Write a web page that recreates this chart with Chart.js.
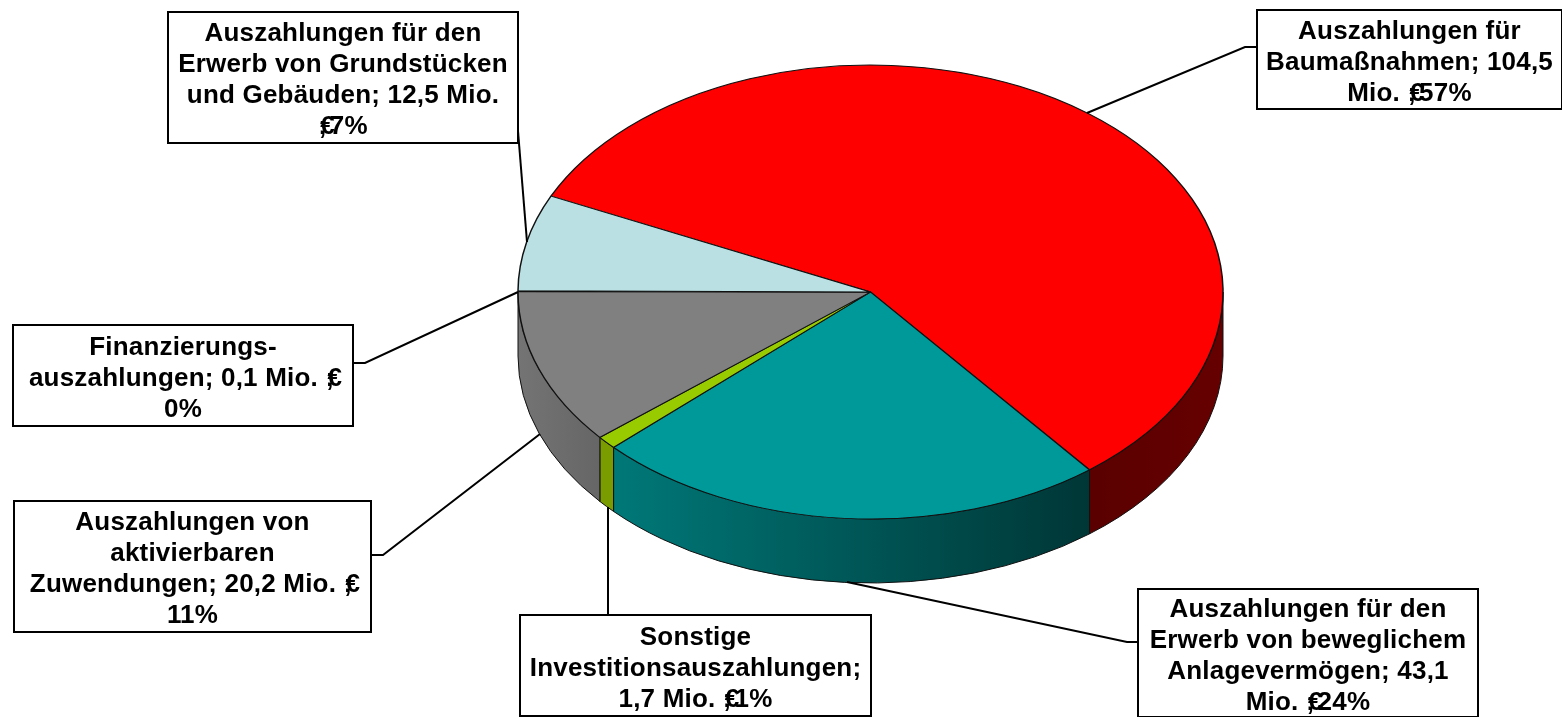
<!DOCTYPE html>
<html>
<head>
<meta charset="utf-8">
<style>html,body{margin:0;padding:0;background:#fff}canvas{display:block}</style>
<script src="https://cdn.jsdelivr.net/npm/chart.js@4/dist/chart.umd.min.js"></script>
</head>
<body>
<canvas id="c" width="1562" height="717"></canvas>
<script>
const categories = [
  "Auszahlungen für Baumaßnahmen",
  "Auszahlungen für den Erwerb von beweglichem Anlagevermögen",
  "Sonstige Investitionsauszahlungen",
  "Auszahlungen von aktivierbaren Zuwendungen",
  "Finanzierungsauszahlungen",
  "Auszahlungen für den Erwerb von Grundstücken und Gebäuden"
];
const values = [104.5, 43.1, 1.7, 20.2, 0.1, 12.5];
const labelLines = [
  ["Auszahlungen für", "Baumaßnahmen; 104,5", "Mio. €;57%"],
  ["Auszahlungen für den", "Erwerb von beweglichem", "Anlagevermögen; 43,1", "Mio. €;24%"],
  ["Sonstige", "Investitionsauszahlungen;", "1,7 Mio. €;1%"],
  ["Auszahlungen von", "aktivierbaren", "Zuwendungen; 20,2 Mio. €;", "11%"],
  ["Finanzierungs-", "auszahlungen; 0,1 Mio. €;", "0%"],
  ["Auszahlungen für den", "Erwerb von Grundstücken", "und Gebäuden; 12,5 Mio.", "€;7%"]
];
const topColors = ["#FF0000", "#009999", "#99CC00", "#808080", "#808080", "#BBE0E3"];
const wallColors = [
  ["#5a0000", "#660000"],
  ["#007878", "#003636"],
  ["#7a9c00", "#7a9c00"],
  ["#747474", "#666666"],
  ["#747474", "#747474"],
  ["#9ab8bb", "#9ab8bb"]
];
const boxes = [
  {x:1257,y:10,w:305,h:99,  leader:[[1257,47],[1245,47],[1087,113]]},
  {x:1138,y:589,w:340,h:128, leader:[[1138,642],[1127,642],[847,582]]},
  {x:520,y:615,w:351,h:101, leader:[[608,615],[608,507]]},
  {x:14,y:501,w:357,h:131,  leader:[[371,555],[383,555],[540,434]]},
  {x:13,y:325,w:340,h:101,  leader:[[353,363],[365,363],[518,292]]},
  {x:168,y:12,w:350,h:131,  leader:[[518,131],[527,242]]}
];
const RX = 352.5, RY = 227, DEPTH = 64, FONT = 'bold 26px "Liberation Sans", Arial, sans-serif', LINE_H = 31;

function drawLine(ctx, text, cx, y) {
  const i = text.indexOf("€;");
  if (i < 0) { ctx.textAlign = "left"; ctx.fillText(text, cx - ctx.measureText(text).width / 2, y); return; }
  const left = text.slice(0, i), right = text.slice(i + 2);
  const lw = ctx.measureText(left).width, ew = ctx.measureText("€").width, rw = ctx.measureText(right).width;
  const lead = 2, overlap = 5;
  const total = lw + lead + ew - overlap + rw;
  let x = cx - total / 2;
  ctx.textAlign = "left";
  ctx.fillText(left, x, y); x += lw;
  ctx.fillText(";", x, y);
  ctx.fillText("€", x + lead, y);
  ctx.fillText(right, x + lead + ew - overlap, y);
}

const pie3d = {
  id: "pie3d",
  beforeDatasetsDraw(chart) {
    const ctx = chart.ctx, arcs = chart.getDatasetMeta(0).data;
    arcs.forEach((a, idx) => {
      const s = a.startAngle, e = a.endAngle;
      [0, 2 * Math.PI].forEach(base => {
        const from = Math.max(s, base), to = Math.min(e, base + Math.PI);
        if (to <= from) return;
        const x1 = a.x + RX * Math.cos(from), x2 = a.x + RX * Math.cos(to);
        const g = ctx.createLinearGradient(Math.min(x1, x2), 0, Math.max(x1, x2), 0);
        g.addColorStop(0, wallColors[idx][0]);
        g.addColorStop(1, wallColors[idx][1]);
        ctx.save();
        ctx.beginPath();
        ctx.ellipse(a.x, a.y, RX, RY, 0, from, to);
        ctx.ellipse(a.x, a.y + DEPTH, RX, RY, 0, to, from, true);
        ctx.closePath();
        ctx.fillStyle = g;
        ctx.fill();
        ctx.strokeStyle = "#111";
        ctx.lineWidth = 1;
        ctx.stroke();
        ctx.restore();
      });
    });
    const a0 = arcs[0];
    ctx.save();
    ctx.translate(a0.x, a0.y);
    ctx.scale(1, RY / RX);
    ctx.translate(-a0.x, -a0.y);
  },
  afterDatasetsDraw(chart) {
    const ctx = chart.ctx;
    ctx.restore();
    ctx.save();
    ctx.strokeStyle = "#000";
    ctx.lineWidth = 2;
    boxes.forEach(b => {
      ctx.beginPath();
      b.leader.forEach((p, i) => i ? ctx.lineTo(p[0], p[1]) : ctx.moveTo(p[0], p[1]));
      ctx.stroke();
    });
    ctx.font = FONT;
    ctx.letterSpacing = "0.2px";
    ctx.textBaseline = "alphabetic";
    boxes.forEach((b, i) => {
      ctx.fillStyle = "#fff";
      ctx.fillRect(b.x, b.y, b.w, b.h);
      ctx.strokeStyle = "#000";
      ctx.strokeRect(b.x, b.y, b.w, b.h);
      ctx.fillStyle = "#000";
      const lines = labelLines[i];
      const y0 = b.y + (b.h - lines.length * LINE_H) / 2 + 25.5;
      lines.forEach((t, k) => drawLine(ctx, t, b.x + b.w / 2, y0 + k * LINE_H));
    });
    ctx.restore();
  }
};

new Chart(document.getElementById("c"), {
  type: "pie",
  data: {
    labels: categories,
    datasets: [{
      data: values,
      backgroundColor: topColors,
      borderColor: "#111",
      borderWidth: 1.5,
      clip: false
    }]
  },
  options: {
    responsive: false,
    animation: false,
    rotation: 295,
    radius: RX,
    layout: { padding: { left: 179, right: 0, top: 0, bottom: 133 } },
    plugins: { legend: { display: false }, tooltip: { enabled: false }, title: { display: false } }
  },
  plugins: [pie3d]
});
</script>
</body>
</html>
